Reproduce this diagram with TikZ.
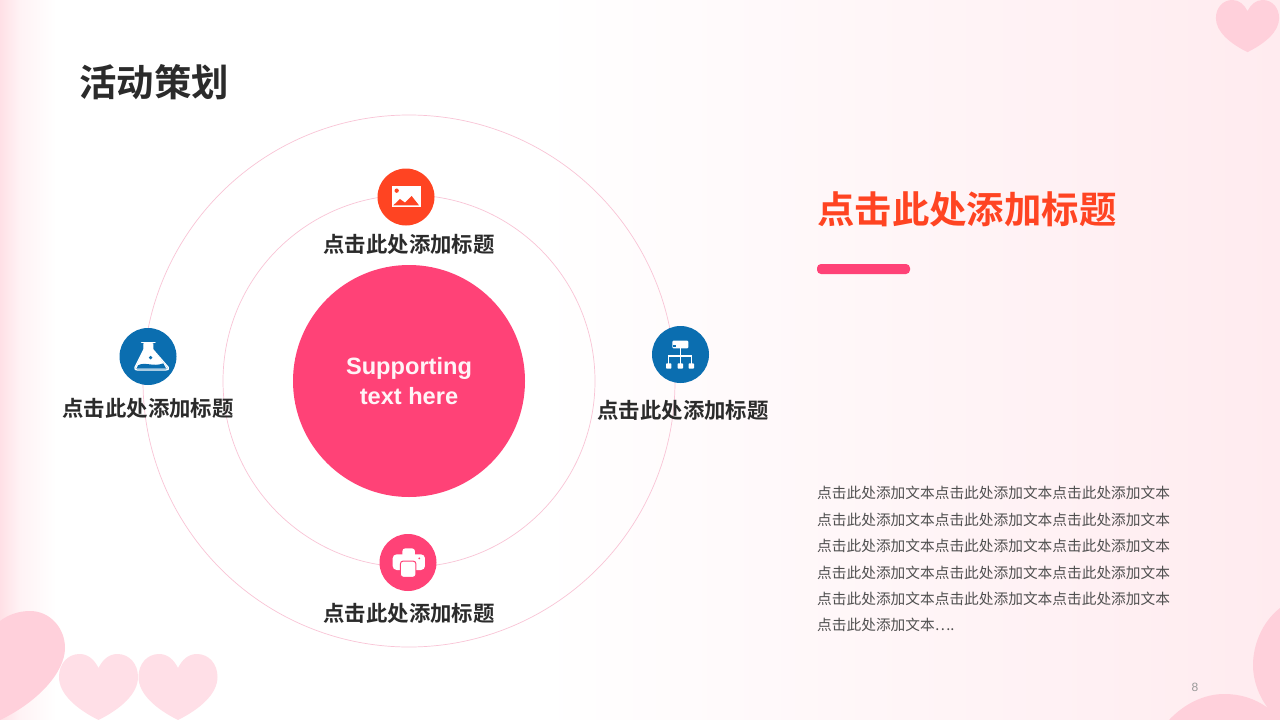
\documentclass[tikz,border=0pt]{standalone}
\usepackage{fontspec}
\setmainfont{Liberation Sans}
\newfontfamily\cjk{Noto Sans CJK SC}
\newfontfamily\cjkb{Noto Sans CJK SC Bold}
\definecolor{rosered}{HTML}{FF4277}
\definecolor{flame}{HTML}{FF4422}
\definecolor{ocean}{HTML}{0B6EB0}
\definecolor{ringpink}{HTML}{F9C4D6}
\definecolor{inkdark}{HTML}{2B2B2B}
\definecolor{bodygrey}{HTML}{505050}
\definecolor{heartA}{HTML}{FFD0DB}
\definecolor{heartB}{HTML}{FFDFE7}
\definecolor{bgpink}{HTML}{FFEBEF}
\definecolor{edgepink}{HTML}{FFE0E6}
\definecolor{edgemid}{HTML}{FFF3F5}
\definecolor{softwhite}{HTML}{FFF4F7}
\tikzset{
  ring/.style={draw=ringpink,line width=0.7pt},
  badge/.style={circle,minimum size=57pt,inner sep=0pt},
  lbl/.style={font=\cjkb\fontsize{21.4}{24}\selectfont,text=inkdark,inner sep=0pt},
  bodyline/.style={anchor=west,font=\cjk\fontsize{14.7}{18}\selectfont,text=bodygrey,inner sep=0pt},
}
\newcommand{\unitheart}{(0,14) .. controls (4,6) and (10,0) .. (19,0) .. controls (31,0) and (39.5,10) .. (39.5,23) .. controls (39.5,40) and (22,55) .. (0,66) .. controls (-22,55) and (-39.5,40) .. (-39.5,23) .. controls (-39.5,10) and (-31,0) .. (-19,0) .. controls (-10,0) and (-4,6) .. (0,14) -- cycle}
\begin{document}
\begin{tikzpicture}[x=1pt,y=-1pt]
\useasboundingbox (0,0) rectangle (1280,720);
% background
\fill[white] (0,0) rectangle (1280,720);
\shade[left color=edgepink,right color=edgemid,draw=none] (0,0) rectangle (20,720);
\shade[left color=edgemid,right color=white,draw=none] (20,0) rectangle (56,720);
\shade[left color=white,right color=bgpink,draw=none] (540,0) rectangle (1280,720);
% hearts
\begin{scope}[shift={(98.5pt,-654pt)}]\fill[heartB] \unitheart;\end{scope}
\begin{scope}[shift={(178pt,-654pt)}]\fill[heartB] \unitheart;\end{scope}
\begin{scope}[shift={(1247.5pt,0pt)},xscale=0.8,yscale=0.79]\fill[heartA] \unitheart;\end{scope}
\fill[heartA] (0,621) .. controls (9,614) and (20,611) .. (30,611) .. controls (50,611) and (65,628) .. (65,648) .. controls (65,672) and (38,702) .. (0,720) -- cycle;
\fill[heartA] (1280,608) .. controls (1262,622) and (1253,645) .. (1253,665) .. controls (1253,682) and (1260,698) .. (1268,708) .. controls (1254,698) and (1240,694) .. (1224,694) .. controls (1204,694) and (1184,704) .. (1169,720) -- (1280,720) -- cycle;
% rings
\draw[ring] (409,381) circle[radius=266];
\draw[ring] (409,381) circle[radius=186];
% hub
\node[circle,fill=rosered,minimum size=232pt,inner sep=0pt,align=center,text=softwhite,font=\bfseries\fontsize{23.6}{29.5}\selectfont] (hub) at (409,381) {Supporting\\text here};
% badges
\node[badge,fill=flame] (b1) at (406,197) {};
\node[badge,fill=ocean] (b2) at (148,356.5) {};
\node[badge,fill=ocean] (b3) at (680.5,354.5) {};
\node[badge,fill=rosered] (b4) at (408,562.5) {};
% image icon
\begin{scope}[shift={(360pt,-160pt)},x=0.3333pt,y=-0.3333pt]
\fill[white] (95,78) rectangle (182,142);
\fill[flame] (110,92) circle[radius=6.5];
\fill[flame] (100,136) -- (120,117) -- (135,128) -- (155,108) -- (177,136) -- cycle;
\end{scope}
% flask icon
\begin{scope}[shift={(110pt,-320pt)},x=0.3333pt,y=-0.3333pt]
\draw[white,line width=1.4pt,line cap=round] (95,68) -- (135,68);
\fill[white] (102,68) -- (128,68) -- (128,88) -- (175,146) -- (75,146) -- (102,88) -- cycle;
\fill[ocean] (122,113) circle[radius=5.5];
\fill[ocean] (84,136) .. controls (105,124) and (130,142) .. (160,130) -- (168,145) -- (80,145) -- cycle;
\draw[white,line width=1.2pt,line join=round] (102,70) -- (102,88) -- (75,142) .. controls (73,148) and (76,150) .. (82,150) -- (168,150) .. controls (174,150) and (177,148) .. (175,142) -- (128,88) -- (128,70);
\end{scope}
% network icon
\begin{scope}[shift={(640pt,-320pt)},x=0.3333pt,y=-0.3333pt]
\fill[white,rounded corners=1pt] (97,62) rectangle (145,85);
\fill[ocean] (100,76) rectangle (107,80);
\draw[white,line width=1.3pt] (121,85) -- (121,132) (86,132) -- (86,108) -- (154,108) -- (154,132);
\fill[white,rounded corners=0.7pt] (78,130) rectangle (94,146);
\fill[white,rounded corners=0.7pt] (113,130) rectangle (129,146);
\fill[white,rounded corners=0.7pt] (146,130) rectangle (162,146);
\end{scope}
% printer icon
\begin{scope}[shift={(370pt,-525pt)},x=0.3333pt,y=-0.3333pt]
\fill[white,rounded corners=3pt] (97,70) rectangle (135,100);
\fill[white,rounded corners=4pt] (68,88) rectangle (165,135);
\fill[rosered] (148,100) circle[radius=3];
\fill[white,draw=rosered,line width=1pt,rounded corners=3pt] (91,108) rectangle (138,157);
\end{scope}
% labels
\node[lbl] (l1) at (409,244.5) {点击此处添加标题};
\node[lbl] (l2) at (148,408.5) {点击此处添加标题};
\node[lbl] (l3) at (683,410) {点击此处添加标题};
\node[lbl] (l4) at (409,613.5) {点击此处添加标题};
% title
\node[anchor=west,inner sep=0pt,font=\cjkb\fontsize{37.4}{40}\selectfont,text=inkdark] (title) at (79,82) {活动策划};
% right panel
\node[anchor=west,inner sep=0pt,font=\cjkb\fontsize{37.4}{40}\selectfont,text=flame] (head) at (817,209) {点击此处添加标题};
\fill[rosered,rounded corners=4pt] (817,264) rectangle (910,274);
\node[bodyline] (t1) at (817,493) {点击此处添加文本点击此处添加文本点击此处添加文本};
\node[bodyline] (t2) at (817,519.5) {点击此处添加文本点击此处添加文本点击此处添加文本};
\node[bodyline] (t3) at (817,546) {点击此处添加文本点击此处添加文本点击此处添加文本};
\node[bodyline] (t4) at (817,572.5) {点击此处添加文本点击此处添加文本点击此处添加文本};
\node[bodyline] (t5) at (817,599) {点击此处添加文本点击此处添加文本点击此处添加文本};
\node[bodyline] (t6) at (817,625) {点击此处添加文本….};
\node[inner sep=0pt,font=\fontsize{12}{14}\selectfont,text=gray!80] (pg) at (1195,687) {8};
\end{tikzpicture}
\end{document}
